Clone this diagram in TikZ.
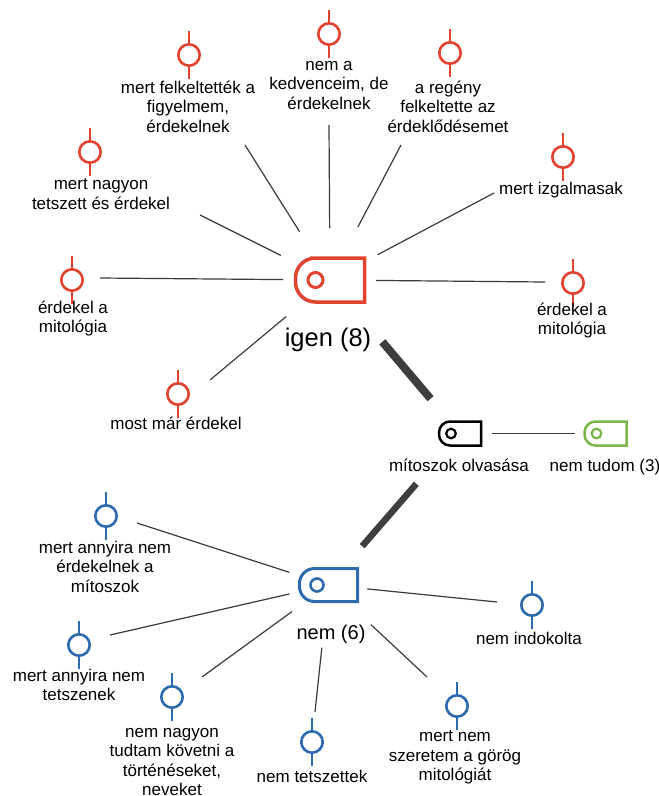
\documentclass[tikz,border=0pt]{standalone}
\usepackage{fontspec}
\setmainfont{Liberation Sans}
\usetikzlibrary{calc}

\definecolor{tagred}{HTML}{E2432E}
\definecolor{tagblue}{HTML}{2D6AAE}
\definecolor{taggreen}{HTML}{7AB547}
\definecolor{spokegray}{HTML}{3A3A3A}
\definecolor{bondgray}{HTML}{3E3E3E}

% tag-shaped icon drawn around a named box node:
% #1 node, #2 colour, #3 outline width, #4 corner radius,
% #5 hole offset from the left side, #6 hole radius, #7 hole line width
\newcommand{\drawtag}[7]{%
  \draw[#2, line width=#3, line join=miter]
    (#1.north) -- (#1.north east) -- (#1.south east) -- (#1.south)
    [rounded corners=#4] -- (#1.south west) -- (#1.north west) -- cycle;
  \draw[#2, line width=#7] ([xshift=#5]#1.west) circle[radius=#6];
}

\tikzset{
  pinmark/.pic={
    \draw[line width=2.6pt] (0pt,24pt) -- (0pt,10.7pt) (0pt,-10.7pt) -- (0pt,-24pt);
    \draw[line width=2.6pt] (0pt,0pt) circle[radius=10.7pt];
  },
  lbl/.style={font=\fontsize{17}{19.5}\selectfont, align=center, inner sep=0pt,
    anchor=north, execute at begin node=\strut},
  tagbox/.style={rectangle, inner sep=0pt, outer sep=0pt},
  spoke/.style={draw=spokegray, line width=1.2pt},
  bond/.style={draw=bondgray, line cap=butt},
}

\begin{document}
\begin{tikzpicture}[x=1pt, y=-1pt]
\useasboundingbox (0,0) rectangle (659,796);

% ---- tag icons ----
\node[tagbox, minimum width=69pt, minimum height=44pt] (igen) at (330,280) {};
\drawtag{igen}{tagred}{3.5pt}{20pt}{20pt}{7.5pt}{3pt}
\node[tagbox, minimum width=42pt, minimum height=24pt] (mitosz) at (460,433.5) {};
\drawtag{mitosz}{black}{2.5pt}{11pt}{12pt}{4.8pt}{2.2pt}
\node[tagbox, minimum width=42pt, minimum height=24pt] (nemtudom) at (605.5,433.5) {};
\drawtag{nemtudom}{taggreen}{2.5pt}{11pt}{12pt}{4.8pt}{2.2pt}
\node[tagbox, minimum width=58pt, minimum height=33pt] (nem) at (328.5,585) {};
\drawtag{nem}{tagblue}{3pt}{15pt}{17.5pt}{6.5pt}{2.6pt}

% ---- hub labels ----
\node[font=\fontsize{25.5}{30}\selectfont, anchor=base, inner sep=0pt] (igenlbl) at (328,346) {igen (8)};
\node[font=\fontsize{20}{24}\selectfont, anchor=base, inner sep=0pt] (nemlbl) at (331,639) {nem (6)};
\node[lbl] (mitoszlbl) at (459,457.75) {mítoszok olvasása};
\node[lbl] (nemtudomlbl) at (605,457.75) {nem tudom (3)};

% ---- heavy links between the hubs ----
\draw[bond, line width=8pt, shorten <=81pt, shorten >=45.6pt] (igen.center) -- (mitosz.center);
\draw[bond, line width=6.5pt, shorten <=66.6pt, shorten >=51.4pt] (mitosz.center) -- (nem.center);
\draw[spoke, shorten <=32pt, shorten >=30.5pt] (mitosz.center) -- (nemtudom.center);

% ---- answers to "igen" ----
\pic[color=tagred] at (189,55) {pinmark};
\node[lbl] (r1) at (188,80.75) {mert felkeltették a\\figyelmem,\\érdekelnek};
\pic[color=tagred] at (329,34) {pinmark};
\node[lbl] (r2) at (329,60.75) {nem a\\kedvenceim, de\\érdekelnek};
\pic[color=tagred] at (450,53) {pinmark};
\node[lbl] (r3) at (448,80.75) {a regény\\felkeltette az\\érdeklődésemet};
\pic[color=tagred] at (90,152) {pinmark};
\node[lbl] (r4) at (101,178.75) {mert nagyon\\tetszett és érdekel};
\pic[color=tagred] at (563,157) {pinmark};
\node[lbl] (r5) at (561,180.75) {mert izgalmasak};
\pic[color=tagred] at (72,280) {pinmark};
\node[lbl] (r6) at (73,300.75) {érdekel a\\mitológia};
\pic[color=tagred] at (573,283) {pinmark};
\node[lbl] (r7) at (572,302.75) {érdekel a\\mitológia};
\pic[color=tagred] at (178,394) {pinmark};
\node[lbl] (r8) at (176,415.75) {most már érdekel};

\coordinate (er1) at (245,145);
\coordinate (er2) at (329,125);
\coordinate (er3) at (401,145);
\coordinate (er4) at (200,215);
\coordinate (er5) at (494,193);
\coordinate (er6) at (100,278);
\coordinate (er7) at (545,282);
\coordinate (er8) at (210,380);
\draw[spoke, shorten <=57pt] (igen.center) -- (er1);
\draw[spoke, shorten <=52pt] (igen.center) -- (er2);
\draw[spoke, shorten <=60pt] (igen.center) -- (er3);
\draw[spoke, shorten <=55pt] (igen.center) -- (er4);
\draw[spoke, shorten <=54pt] (igen.center) -- (er5);
\draw[spoke, shorten <=47pt] (igen.center) -- (er6);
\draw[spoke, shorten <=46pt] (igen.center) -- (er7);
\draw[spoke, shorten <=57pt] (igen.center) -- (er8);

% ---- answers to "nem" ----
\pic[color=tagblue] at (106,516) {pinmark};
\node[lbl] (b1) at (105,540.75) {mert annyira nem\\érdekelnek a\\mítoszok};
\pic[color=tagblue] at (79,645) {pinmark};
\node[lbl] (b2) at (79,668.75) {mert annyira nem\\tetszenek};
\pic[color=tagblue] at (172,697) {pinmark};
\node[lbl] (b3) at (172,727.75) {nem nagyon\\tudtam követni a\\történéseket,\\neveket};
\pic[color=tagblue] at (312,742) {pinmark};
\node[lbl] (b4) at (312,768.75) {nem tetszettek};
\pic[color=tagblue] at (457,706) {pinmark};
\node[lbl] (b5) at (455,730.75) {mert nem\\szeretem a görög\\mitológiát};
\pic[color=tagblue] at (532,605) {pinmark};
\node[lbl] (b6) at (529,630.75) {nem indokolta};

\coordinate (eb1) at (137,523);
\coordinate (eb2) at (110,635);
\coordinate (eb3) at (202,677);
\coordinate (eb4) at (315,712);
\coordinate (eb5) at (427,677);
\coordinate (eb6) at (497,602);
\draw[spoke, shorten <=41pt] (nem.center) -- (eb1);
\draw[spoke, shorten <=40pt] (nem.center) -- (eb2);
\draw[spoke, shorten <=45pt] (nem.center) -- (eb3);
\draw[spoke, shorten <=63pt] (nem.center) -- (eb4);
\draw[spoke, shorten <=58pt] (nem.center) -- (eb5);
\draw[spoke, shorten <=39pt] (nem.center) -- (eb6);
\end{tikzpicture}
\end{document}
